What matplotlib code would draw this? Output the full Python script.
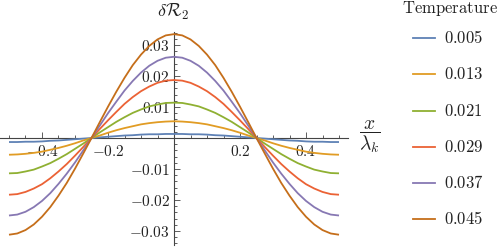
import matplotlib
matplotlib.use('Agg')
import matplotlib.pyplot as plt
from matplotlib.lines import Line2D
from matplotlib.ticker import FixedLocator, MultipleLocator, FixedFormatter

plt.rcParams['mathtext.fontset'] = 'cm'

# ---- data ----
x_pos = [-0.5, -0.475, -0.45, -0.425, -0.4, -0.375, -0.35, -0.325, -0.3, -0.275,
         -0.25, -0.225, -0.2, -0.175, -0.15, -0.125, -0.1, -0.075, -0.05, -0.025,
         0.0,
         0.025, 0.05, 0.075, 0.1, 0.125, 0.15, 0.175, 0.2, 0.225, 0.25,
         0.275, 0.3, 0.325, 0.35, 0.375, 0.4, 0.425, 0.45, 0.475, 0.5]

temperatures = ['0.005', '0.013', '0.021', '0.029', '0.037', '0.045']

r_005 = [-0.0013, -0.0013, -0.0012, -0.0012, -0.0011, -0.0009, -0.0008, -0.0006, -0.0004, -0.0002,
         0.0, 0.0002, 0.0004, 0.0006, 0.0008, 0.0009, 0.0011, 0.0012, 0.0012, 0.0013,
         0.0013,
         0.0013, 0.0012, 0.0012, 0.0011, 0.0009, 0.0008, 0.0006, 0.0004, 0.0002, 0.0,
         -0.0002, -0.0004, -0.0006, -0.0008, -0.0009, -0.0011, -0.0012, -0.0012, -0.0013, -0.0013]
r_013 = [-0.0054, -0.0053, -0.0051, -0.0048, -0.0044, -0.0038, -0.0032, -0.0025, -0.0017, -0.0008,
         0.0, 0.0008, 0.0017, 0.0025, 0.0032, 0.0038, 0.0044, 0.0048, 0.0051, 0.0053,
         0.0054,
         0.0053, 0.0051, 0.0048, 0.0044, 0.0038, 0.0032, 0.0025, 0.0017, 0.0008, 0.0,
         -0.0008, -0.0017, -0.0025, -0.0032, -0.0038, -0.0044, -0.0048, -0.0051, -0.0053, -0.0054]
r_021 = [-0.0114, -0.0113, -0.0108, -0.0102, -0.0092, -0.0081, -0.0067, -0.0052, -0.0035, -0.0018,
         0.0, 0.0018, 0.0035, 0.0052, 0.0067, 0.0081, 0.0092, 0.0102, 0.0108, 0.0113,
         0.0114,
         0.0113, 0.0108, 0.0102, 0.0092, 0.0081, 0.0067, 0.0052, 0.0035, 0.0018, 0.0,
         -0.0018, -0.0035, -0.0052, -0.0067, -0.0081, -0.0092, -0.0102, -0.0108, -0.0113, -0.0114]
r_029 = [-0.0183, -0.0181, -0.0174, -0.0163, -0.0149, -0.0130, -0.0108, -0.0084, -0.0057, -0.0029,
         0.0, 0.0029, 0.0057, 0.0084, 0.0110, 0.0132, 0.0151, 0.0166, 0.0178, 0.0185,
         0.0187,
         0.0185, 0.0178, 0.0166, 0.0151, 0.0132, 0.0110, 0.0084, 0.0057, 0.0029, 0.0,
         -0.0029, -0.0057, -0.0084, -0.0108, -0.0130, -0.0149, -0.0163, -0.0174, -0.0181, -0.0183]
r_037 = [-0.0250, -0.0247, -0.0238, -0.0223, -0.0203, -0.0178, -0.0148, -0.0115, -0.0079, -0.0040,
         0.0, 0.0040, 0.0080, 0.0117, 0.0153, 0.0184, 0.0211, 0.0233, 0.0249, 0.0259,
         0.0262,
         0.0259, 0.0249, 0.0233, 0.0211, 0.0184, 0.0153, 0.0117, 0.0080, 0.0040, 0.0,
         -0.0040, -0.0079, -0.0115, -0.0148, -0.0178, -0.0203, -0.0223, -0.0238, -0.0247, -0.0250]
r_045 = [-0.0312, -0.0308, -0.0297, -0.0279, -0.0254, -0.0223, -0.0186, -0.0145, -0.0099, -0.0050,
         0.0, 0.0051, 0.0101, 0.0149, 0.0194, 0.0235, 0.0269, 0.0297, 0.0318, 0.0331,
         0.0335,
         0.0331, 0.0318, 0.0297, 0.0269, 0.0235, 0.0194, 0.0149, 0.0101, 0.0051, 0.0,
         -0.0050, -0.0099, -0.0145, -0.0186, -0.0223, -0.0254, -0.0279, -0.0297, -0.0308, -0.0312]
series = [r_005, r_013, r_021, r_029, r_037, r_045]

x_major = [-0.4, -0.2, 0.2, 0.4]
y_major = [-0.03, -0.02, -0.01, 0.01, 0.02, 0.03]

colors = ['#5E81B5', '#E19C24', '#8FB032', '#EB6235', '#8778B3', '#C56E1A']

# ---- figure ----
W, H = 498, 248
fig = plt.figure(figsize=(W / 100, H / 100), dpi=100)

def fx(px):
    return px / W

def fy(py):
    return 1 - py / H

ax_left, ax_right, ax_top, ax_bottom = 0, 348, 32, 245
ax = fig.add_axes([fx(ax_left), fy(ax_bottom), fx(ax_right - ax_left), (ax_bottom - ax_top) / H])
ax.set_xlim(-174 / 330, 174 / 330)
ax.set_ylim(-(ax_bottom - 138) / 3100, (138 - ax_top) / 3100)
ax.patch.set_alpha(0)

for s, c in zip(series, colors):
    ax.plot(x_pos, s, color=c, lw=1.3, zorder=3, solid_capstyle='butt', solid_joinstyle='round')

for side in ['top', 'right']:
    ax.spines[side].set_visible(False)
for side in ['left', 'bottom']:
    ax.spines[side].set_position(('data', 0))
    ax.spines[side].set_color('#444444')
    ax.spines[side].set_linewidth(0.8)
    ax.spines[side].set_zorder(1)

def fmt(v, nd):
    s = f'{abs(v):.{nd}f}'
    return ('$-' if v < 0 else '$') + s + '$'

ax.xaxis.set_major_locator(FixedLocator(x_major))
ax.xaxis.set_major_formatter(FixedFormatter([fmt(v, 1) for v in x_major]))
ax.xaxis.set_minor_locator(MultipleLocator(0.05))
ax.yaxis.set_major_locator(FixedLocator(y_major))
ax.yaxis.set_major_formatter(FixedFormatter([fmt(v, 2) for v in y_major]))
ax.yaxis.set_minor_locator(MultipleLocator(0.002))

ax.tick_params(which='both', direction='in', color='#444444', width=0.6, labelsize=11, labelcolor='#222222')
ax.tick_params(which='major', length=4)
ax.tick_params(which='minor', length=2)
ax.tick_params(axis='x', pad=4)
ax.tick_params(axis='y', pad=3)

fig.text(fx(173), fy(12), r'$\delta\mathcal{R}_2$', ha='center', va='center', fontsize=13, color='#222222')
fig.text(fx(370), fy(137), r'$\dfrac{x}{\lambda_k}$', ha='center', va='center', fontsize=14, color='#222222')

# legend
fig.text(fx(450), fy(9), r'$\mathrm{Temperature}$', ha='center', va='center', fontsize=12, color='#222222')
leg_y = [38.3, 74.4, 110.5, 146.6, 182.7, 218.8]
for t, c, yy in zip(temperatures, colors, leg_y):
    fig.add_artist(Line2D([fx(413), fx(435)], [fy(yy), fy(yy)], color=c, lw=1.3, transform=fig.transFigure))
    fig.text(fx(444), fy(yy), '$' + t + '$', ha='left', va='center', fontsize=12, color='#222222')

fig.savefig('out.png', dpi=100)
